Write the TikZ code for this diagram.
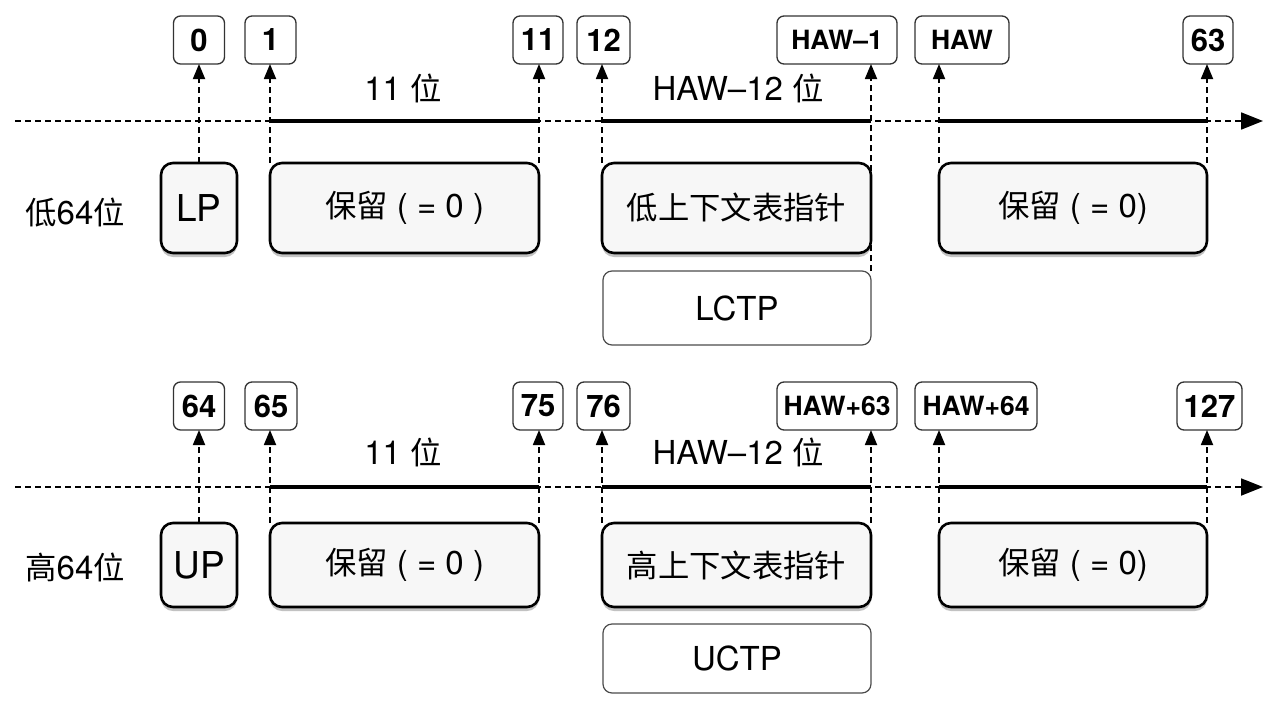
\documentclass[tikz,border=0pt]{standalone}
\usepackage{fontspec}
\setmainfont{TeX Gyre Heros}
\newfontfamily\cjk{Noto Sans CJK SC}[Scale=0.95]
\usetikzlibrary{arrows.meta,shadows}

\begin{document}
\begin{tikzpicture}[x=1pt,y=-1pt,
  lbl/.style={draw=black!80, line width=1.3pt, rounded corners=7pt, fill=white, minimum height=48pt, inner sep=0pt, outer sep=0pt, font=\fontsize{31}{33}\selectfont\bfseries},
  haw/.style={lbl, font=\fontsize{26.5}{28}\selectfont\bfseries},
  fld/.style={draw=black, line width=2.6pt, rounded corners=12pt, fill=black!3, inner sep=0pt, outer sep=0pt, font=\fontsize{33}{35}\selectfont, drop shadow={shadow xshift=0pt, shadow yshift=-4pt, fill=black!60, opacity=0.4}},
  ctp/.style={draw=black!70, line width=1.2pt, rounded corners=9pt, fill=white, inner sep=0pt, outer sep=0pt, font=\fontsize{33}{35}\selectfont},
  txt/.style={inner sep=0pt, font=\fontsize{33}{35}\selectfont},
  tick/.style={line width=1.8pt, dash pattern=on 6pt off 4pt, -{Triangle[length=15pt,width=12pt]}},
  axis/.style={line width=1.8pt, dash pattern=on 6pt off 4pt, -{Triangle[length=22pt,width=17pt]}},
  seg/.style={line width=4pt}]
\useasboundingbox (0,0) rectangle (1280,707);

% low 64 bits
\node[lbl, minimum width=51pt] (l0) at (199,40) {0};
\node[lbl, minimum width=51pt] (l1) at (270.5,40) {1};
\node[lbl, minimum width=50pt] (l11) at (538,40) {11};
\node[lbl, minimum width=53pt] (l12) at (603.5,40) {12};
\node[haw, minimum width=120pt] (lhawm) at (837,40) {HAW–1};
\node[haw, minimum width=94pt] (lhaw) at (962,40) {HAW};
\node[lbl, minimum width=50pt] (l63) at (1208,40) {63};

\node[txt] (lw11) at (403,88) {11 {\cjk 位}};
\node[txt] (lwhaw) at (738,88) {HAW–12 {\cjk 位}};
\node[txt] (lrow) at (75,213) {{\cjk 低}64{\cjk 位}};

\node[fld, minimum width=76pt, minimum height=90pt, font=\fontsize{37}{39}\selectfont] (lp) at (199,208) {LP};
\node[fld, minimum width=269pt, minimum height=90pt] (lrsv1) at (404.5,208) {{\cjk 保留} ( = 0 )};
\node[fld, minimum width=269pt, minimum height=90pt] (lptr) at (736.5,208) {\cjk 低上下文表指针};
\node[fld, minimum width=268pt, minimum height=90pt] (lrsv2) at (1073,208) {{\cjk 保留} ( = 0)};
\node[ctp, minimum width=268pt, minimum height=74pt] (lctp) at (737,308) {LCTP};

\coordinate (lax) at (15,121);
\coordinate (laxe) at (1263,121);
\draw[axis] (lax) -- (laxe);
\draw[seg] (lrsv1.north west |- lax) -- (lrsv1.north east |- lax);
\draw[seg] (lptr.north west |- lax) -- (lptr.north east |- lax);
\draw[seg] (lrsv2.north west |- lax) -- (lrsv2.north east |- lax);

\draw[tick] (lp.north) -- (l0.south);
\draw[tick] (lrsv1.north west) -- (lrsv1.north west |- l1.south);
\draw[tick] (lrsv1.north east) -- (lrsv1.north east |- l11.south);
\draw[tick] (lptr.north west) -- (lptr.north west |- l12.south);
\draw[tick] (lctp.north east) -- (lctp.north east |- lhawm.south);
\draw[tick] (lrsv2.north west) -- (lrsv2.north west |- lhaw.south);
\draw[tick] (lrsv2.north east) -- (lrsv2.north east |- l63.south);

% high 64 bits
\node[lbl, minimum width=51pt] (h64) at (199,406) {64};
\node[lbl, minimum width=52pt] (h65) at (271,406) {65};
\node[lbl, minimum width=50pt] (h75) at (538,406) {75};
\node[lbl, minimum width=53pt] (h76) at (603.5,406) {76};
\node[haw, minimum width=120pt] (hhawm) at (837,406) {HAW+63};
\node[haw, minimum width=122pt] (hhaw) at (976,406) {HAW+64};
\node[lbl, minimum width=65pt] (h127) at (1209.5,406) {127};

\node[txt] (hw11) at (403,452) {11 {\cjk 位}};
\node[txt] (hwhaw) at (738,452) {HAW–12 {\cjk 位}};
\node[txt] (hrow) at (75,567) {{\cjk 高}64{\cjk 位}};

\node[fld, minimum width=76pt, minimum height=84pt, font=\fontsize{37}{39}\selectfont] (up) at (199,565) {UP};
\node[fld, minimum width=269pt, minimum height=84pt] (hrsv1) at (404.5,565) {{\cjk 保留} ( = 0 )};
\node[fld, minimum width=269pt, minimum height=84pt] (hptr) at (736.5,565) {\cjk 高上下文表指针};
\node[fld, minimum width=268pt, minimum height=84pt] (hrsv2) at (1073,565) {{\cjk 保留} ( = 0)};
\node[ctp, minimum width=268pt, minimum height=69pt] (uctp) at (737,658.5) {UCTP};

\coordinate (hax) at (15,487);
\coordinate (haxe) at (1263,487);
\draw[axis] (hax) -- (haxe);
\draw[seg] (hrsv1.north west |- hax) -- (hrsv1.north east |- hax);
\draw[seg] (hptr.north west |- hax) -- (hptr.north east |- hax);
\draw[seg] (hrsv2.north west |- hax) -- (hrsv2.north east |- hax);

\draw[tick] (up.north) -- (h64.south);
\draw[tick] (hrsv1.north west) -- (hrsv1.north west |- h65.south);
\draw[tick] (hrsv1.north east) -- (hrsv1.north east |- h75.south);
\draw[tick] (hptr.north west) -- (hptr.north west |- h76.south);
\draw[tick] (hptr.north east) -- (hptr.north east |- hhawm.south);
\draw[tick] (hrsv2.north west) -- (hrsv2.north west |- hhaw.south);
\draw[tick] (hrsv2.north east) -- (hrsv2.north east |- h127.south);
\end{tikzpicture}
\end{document}
